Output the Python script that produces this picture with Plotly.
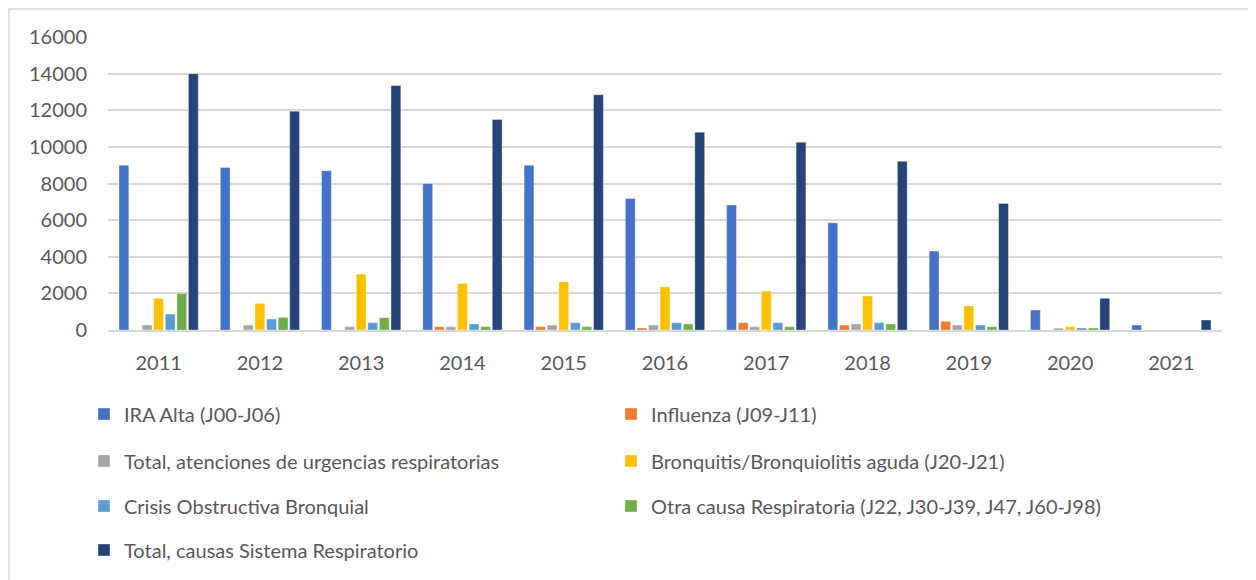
import plotly.graph_objects as go

years = ["2011", "2012", "2013", "2014", "2015", "2016", "2017", "2018", "2019", "2020", "2021"]

ira_alta = [9000, 8870, 8700, 8000, 9000, 7180, 6830, 5850, 4310, 1090, 270]
influenza = [0, 0, 0, 180, 180, 110, 400, 270, 475, 0, 0]
total_atenciones = [270, 270, 180, 180, 270, 270, 180, 330, 270, 100, 0]
bronquitis = [1730, 1455, 3050, 2545, 2635, 2360, 2130, 1855, 1310, 180, 0]
crisis_obstructiva = [870, 600, 400, 330, 400, 400, 400, 400, 270, 110, 0]
otra_causa = [2000, 690, 670, 180, 180, 330, 180, 330, 180, 110, 0]
total_sistema = [14000, 11950, 13350, 11500, 12850, 10800, 10250, 9220, 6910, 1730, 545]

series_names = [
    "IRA Alta (J00-J06)",
    "Influenza (J09-J11)",
    "Total, atenciones de urgencias respiratorias",
    "Bronquitis/Bronquiolitis aguda (J20-J21)",
    "Crisis Obstructiva Bronquial",
    "Otra causa Respiratoria (J22, J30-J39, J47, J60-J98)",
    "Total, causas Sistema Respiratorio",
]
series_values = [ira_alta, influenza, total_atenciones, bronquitis,
                 crisis_obstructiva, otra_causa, total_sistema]
colors = ["#4472C4", "#ED7D31", "#A5A5A5", "#FFC000", "#5B9BD5", "#70AD47", "#264478"]
legend_ids = ["legend", "legend", "legend2", "legend2", "legend3", "legend3", "legend4"]

FONT = "Lato"
TXT = "#595959"

fig = go.Figure()
for name, vals, col, lg in zip(series_names, series_values, colors, legend_ids):
    fig.add_trace(go.Bar(
        x=years, y=vals, name=name, legend=lg,
        marker=dict(color=col, line=dict(color="rgba(255,255,255,0.6)", width=0.6)),
    ))

# page has an 8px body margin; work in page pixels and shift
OFF = 8
W, H = 1256 - OFF, 580 - OFF
PL, PR, PT, PB = 108, 1222, 37, 330   # plot area in page pixels
L, T = PL - OFF, PT - OFF
R = W - (PR - OFF)
B = H - (PB - OFF)
pw = PR - PL
ph = PB - PT

def px_x(x):
    return (x - PL) / pw

def px_y(y):
    return (PB - y) / ph

leg_common = dict(
    orientation="h", xanchor="left", yanchor="middle",
    entrywidth=482, entrywidthmode="pixels",
    font=dict(family=FONT, size=20, color=TXT),
    bgcolor="rgba(0,0,0,0)", traceorder="normal",
)
row_y = [414, 461, 506, 550]
leg_x = px_x(84)

fig.update_layout(
    width=W, height=H,
    margin=dict(l=L, r=R, t=T, b=B, autoexpand=False),
    paper_bgcolor="white", plot_bgcolor="white",
    barmode="group", bargap=0.2, bargroupgap=0.15,
    font=dict(family=FONT, color=TXT),
    showlegend=True,
    legend=dict(x=leg_x, y=px_y(row_y[0]), **leg_common),
    legend2=dict(x=leg_x, y=px_y(row_y[1]), **leg_common),
    legend3=dict(x=leg_x, y=px_y(row_y[2]), **leg_common),
    legend4=dict(x=leg_x, y=px_y(row_y[3]), **leg_common),
    xaxis=dict(
        showgrid=False, showline=True, linecolor="#D9D9D9", linewidth=1.5,
        ticks="", tickfont=dict(family=FONT, size=20, color=TXT),
        ticklabelstandoff=14,
    ),
    yaxis=dict(
        range=[0, 16000], tickvals=[0, 2000, 4000, 6000, 8000, 10000, 12000, 14000, 16000],
        showgrid=True, gridcolor="#D9D9D9", gridwidth=1.5,
        zeroline=False, showline=False, ticks="",
        tickfont=dict(family=FONT, size=20, color=TXT),
        ticklabelstandoff=20, tickformat="d",
    ),
    shapes=[dict(
        type="rect", xref="paper", yref="paper",
        x0=px_x(9), x1=px_x(1251), y0=px_y(600), y1=px_y(9),
        line=dict(color="#D9D9D9", width=1.5), fillcolor="rgba(0,0,0,0)", layer="below",
    )],
)

fig.write_html("out.html")
